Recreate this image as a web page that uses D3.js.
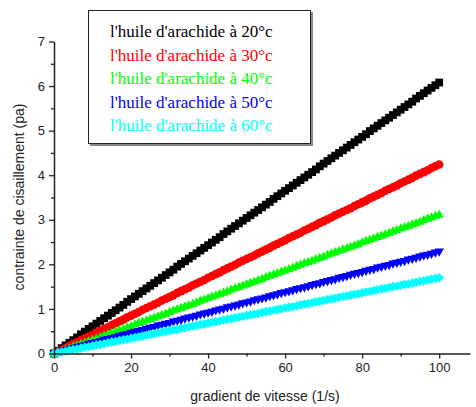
<!DOCTYPE html>
<html><head><meta charset="utf-8">
<script src="https://cdn.jsdelivr.net/npm/d3@7"></script>
<style>body{margin:0;background:#fff}svg{display:block}</style>
</head><body><svg id="c" width="476" height="407"></svg>
<script>
const shearRate = [0,1,2,3,4,5,6,7,8,9,10,11,12,13,14,15,16,17,18,19,20,21,22,23,24,25,26,27,28,29,30,31,32,33,34,35,36,37,38,39,40,41,42,43,44,45,46,47,48,49,50,51,52,53,54,55,56,57,58,59,60,61,62,63,64,65,66,67,68,69,70,71,72,73,74,75,76,77,78,79,80,81,82,83,84,85,86,87,88,89,90,91,92,93,94,95,96,97,98,99,100];
const stress20 = [0,0.06,0.12,0.18,0.24,0.30,0.36,0.43,0.49,0.55,
 0.61,0.67,0.73,0.79,0.85,0.91,0.97,1.03,1.09,1.16,
 1.22,1.28,1.34,1.40,1.46,1.52,1.58,1.64,1.70,1.76,
 1.82,1.88,1.95,2.01,2.07,2.13,2.19,2.25,2.31,2.37,
 2.43,2.49,2.55,2.61,2.68,2.74,2.80,2.86,2.92,2.98,
 3.04,3.10,3.16,3.22,3.28,3.34,3.40,3.47,3.53,3.59,
 3.65,3.71,3.77,3.83,3.89,3.95,4.01,4.07,4.13,4.20,
 4.26,4.32,4.38,4.44,4.50,4.56,4.62,4.68,4.74,4.80,
 4.86,4.92,4.99,5.05,5.11,5.17,5.23,5.29,5.35,5.41,
 5.47,5.53,5.59,5.65,5.72,5.78,5.84,5.90,5.96,6.02,
 6.08];
const stress30 = [0,0.04,0.08,0.13,0.17,0.21,0.25,0.30,0.34,0.38,
 0.42,0.47,0.51,0.55,0.59,0.64,0.68,0.72,0.76,0.81,
 0.85,0.89,0.93,0.98,1.02,1.06,1.10,1.14,1.19,1.23,
 1.27,1.31,1.36,1.40,1.44,1.48,1.53,1.57,1.61,1.65,
 1.70,1.74,1.78,1.82,1.87,1.91,1.95,1.99,2.04,2.08,
 2.12,2.16,2.20,2.25,2.29,2.33,2.37,2.42,2.46,2.50,
 2.54,2.59,2.63,2.67,2.71,2.76,2.80,2.84,2.88,2.93,
 2.97,3.01,3.05,3.10,3.14,3.18,3.22,3.26,3.31,3.35,
 3.39,3.43,3.48,3.52,3.56,3.60,3.65,3.69,3.73,3.77,
 3.82,3.86,3.90,3.94,3.99,4.03,4.07,4.11,4.16,4.20,
 4.24];
const stress40 = [0,0.03,0.06,0.09,0.12,0.16,0.19,0.22,0.25,0.28,
 0.31,0.34,0.37,0.41,0.44,0.47,0.50,0.53,0.56,0.59,
 0.62,0.66,0.69,0.72,0.75,0.78,0.81,0.84,0.87,0.90,
 0.94,0.97,1.00,1.03,1.06,1.09,1.12,1.15,1.19,1.22,
 1.25,1.28,1.31,1.34,1.37,1.40,1.44,1.47,1.50,1.53,
 1.56,1.59,1.62,1.65,1.68,1.72,1.75,1.78,1.81,1.84,
 1.87,1.90,1.93,1.97,2.00,2.03,2.06,2.09,2.12,2.15,
 2.18,2.22,2.25,2.28,2.31,2.34,2.37,2.40,2.43,2.46,
 2.50,2.53,2.56,2.59,2.62,2.65,2.68,2.71,2.75,2.78,
 2.81,2.84,2.87,2.90,2.93,2.96,3.00,3.03,3.06,3.09,
 3.12];
const stress50 = [0,0.02,0.05,0.07,0.09,0.11,0.14,0.16,0.18,0.21,
 0.23,0.25,0.27,0.30,0.32,0.34,0.36,0.39,0.41,0.43,
 0.46,0.48,0.50,0.52,0.55,0.57,0.59,0.62,0.64,0.66,
 0.68,0.71,0.73,0.75,0.78,0.80,0.82,0.84,0.87,0.89,
 0.91,0.93,0.96,0.98,1.00,1.03,1.05,1.07,1.09,1.12,
 1.14,1.16,1.19,1.21,1.23,1.25,1.28,1.30,1.32,1.35,
 1.37,1.39,1.41,1.44,1.46,1.48,1.50,1.53,1.55,1.57,
 1.60,1.62,1.64,1.66,1.69,1.71,1.73,1.76,1.78,1.80,
 1.82,1.85,1.87,1.89,1.92,1.94,1.96,1.98,2.01,2.03,
 2.05,2.07,2.10,2.12,2.14,2.17,2.19,2.21,2.23,2.26,
 2.28];
const stress60 = [0,0.02,0.03,0.05,0.07,0.09,0.10,0.12,0.14,0.15,
 0.17,0.19,0.20,0.22,0.24,0.26,0.27,0.29,0.31,0.32,
 0.34,0.36,0.37,0.39,0.41,0.43,0.44,0.46,0.48,0.49,
 0.51,0.53,0.54,0.56,0.58,0.60,0.61,0.63,0.65,0.66,
 0.68,0.70,0.71,0.73,0.75,0.77,0.78,0.80,0.82,0.83,
 0.85,0.87,0.88,0.90,0.92,0.94,0.95,0.97,0.99,1.00,
 1.02,1.04,1.05,1.07,1.09,1.11,1.12,1.14,1.16,1.17,
 1.19,1.21,1.22,1.24,1.26,1.28,1.29,1.31,1.33,1.34,
 1.36,1.38,1.39,1.41,1.43,1.45,1.46,1.48,1.50,1.51,
 1.53,1.55,1.56,1.58,1.60,1.62,1.63,1.65,1.67,1.68,
 1.70];
const seriesNames = ["l'huile d'arachide à 20°c","l'huile d'arachide à 30°c","l'huile d'arachide à 40°c","l'huile d'arachide à 50°c","l'huile d'arachide à 60°c"];
const seriesValues = [stress20, stress30, stress40, stress50, stress60];
const xTicks = [0,20,40,60,80,100];
const yTicks = [0,1,2,3,4,5,6,7];
const xLabel = "gradient de vitesse (1/s)";
const yLabel = "contrainte de cisaillement (pa)";

const colors = ["#000000","#ff0000","#00ff00","#0000ff","#00ffff"];
const shapes = [
  "M-3.9,-3.9H3.9V3.9H-3.9Z",
  "M4.3,0A4.3,4.3 0 1,1 -4.3,0A4.3,4.3 0 1,1 4.3,0Z",
  "M0,-4.9L4.7,3.3L-4.7,3.3Z",
  "M0,4.9L4.7,-3.3L-4.7,-3.3Z",
  "M0,-4.8L4.8,0L0,4.8L-4.8,0Z"
];

const svg = d3.select("#c");
const x = d3.scaleLinear().domain([0,108]).range([54,470]);
const y = d3.scaleLinear().domain([0,7]).range([353.5,41.5]);

const fontSans = "Arial, 'Liberation Sans', sans-serif";
const axisColor = "#222";

seriesValues.forEach((vals, si) => {
  svg.append("g").selectAll("path").data(shearRate).enter().append("path")
    .attr("d", shapes[si])
    .attr("transform", (d,i) => `translate(${x(d)},${y(vals[i])})`)
    .attr("fill", colors[si]);
});

const xAxis = d3.axisBottom(x).tickValues(xTicks).tickFormat(d3.format("d")).tickSize(5).tickSizeOuter(0).tickPadding(4);
svg.append("g").attr("transform", `translate(0,${y(0)})`).call(xAxis);
const xMinor = d3.axisBottom(x).tickValues([10,30,50,70,90]).tickSize(3).tickSizeOuter(0).tickFormat("");
svg.append("g").attr("transform", `translate(0,${y(0)})`).call(xMinor).select(".domain").remove();
const yAxis = d3.axisLeft(y).tickValues(yTicks).tickFormat(d3.format("d")).tickSize(5).tickSizeOuter(0).tickPadding(4);
svg.append("g").attr("transform", `translate(${x(0)},0)`).call(yAxis);
const yMinor = d3.axisLeft(y).tickValues([0.5,1.5,2.5,3.5,4.5,5.5,6.5]).tickSize(3).tickSizeOuter(0).tickFormat("");
svg.append("g").attr("transform", `translate(${x(0)},0)`).call(yMinor).select(".domain").remove();

svg.selectAll(".domain").attr("stroke", axisColor).attr("stroke-width", 1.5);
svg.selectAll(".tick line").attr("stroke", axisColor).attr("stroke-width", 1.3);
svg.selectAll(".tick text").attr("font-family", fontSans).attr("font-size", 13).attr("fill", "#222");

svg.append("text").attr("x", 265).attr("y", 401).attr("text-anchor","middle")
  .attr("font-family", fontSans).attr("font-size", 14).attr("fill","#222").text(xLabel);
svg.append("text").attr("transform", "translate(24,197) rotate(-90)").attr("text-anchor","middle")
  .attr("font-family", fontSans).attr("font-size", 14).attr("fill","#222").text(yLabel);

const lg = svg.append("g");
lg.append("rect").attr("x", 90).attr("y", 12).attr("width", 223).attr("height", 134).attr("fill", "#888");
lg.append("rect").attr("x", 88.5).attr("y", 10.5).attr("width", 222).attr("height", 133)
  .attr("fill", "#fff").attr("stroke", "#222").attr("stroke-width", 1);
lg.selectAll("text.lt").data(seriesNames).enter().append("text")
  .attr("x", 110).attr("y", (d,i) => 37 + i*23.5)
  .attr("font-family", "'Times New Roman','Liberation Serif',serif").attr("font-size", 17)
  .attr("fill", (d,i) => colors[i]).text(d => d);
</script></body></html>
